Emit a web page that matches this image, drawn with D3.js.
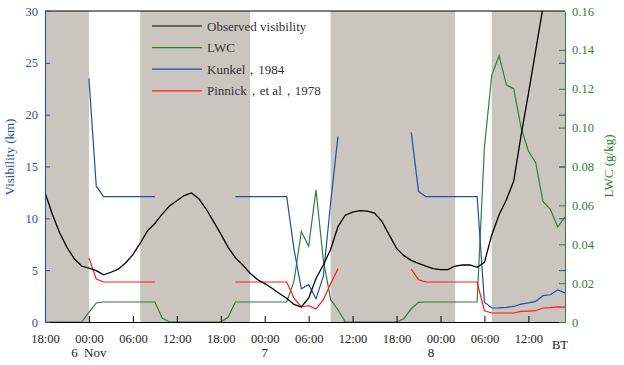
<!DOCTYPE html>

<head>
  <meta charset="utf-8">
  <title>Visibility and LWC</title>
  <style>
    body {
      margin: 0;
      background: #fff;
    }

    text {
      font-family: 'Liberation Serif', 'DejaVu Serif', serif;
    }
  </style>
</head>

<body>
  <div id="viz"></div>

  <script src="https://d3js.org/d3.v7.min.js"></script>

  <script>
    // hours since 18:00 on 5 Nov
    const hours = [0, 1, 2, 3, 4, 5, 6, 7, 8, 9, 10, 11, 12, 13, 14, 15, 16, 17, 18, 19,
      20, 21, 22, 23, 24, 25, 26, 27, 28, 29, 30, 31, 32, 33, 34, 35, 36, 37, 38, 39,
      40, 41, 42, 43, 44, 45, 46, 47, 48, 49, 50, 51, 52, 53, 54, 55, 56, 57, 58, 59,
      60, 61, 62, 63, 64, 65, 66, 67, 68, 69, 70, 71];

    const observed = [12.5, 10.4, 8.6, 7.2, 6.1, 5.4, 5.2, 4.95, 4.55, 4.8,
      5.1, 5.7, 6.5, 7.6, 8.8, 9.5, 10.4, 11.2, 11.7, 12.2,
      12.45, 11.9, 10.9, 9.7, 8.5, 7.2, 6.2, 5.5, 4.7, 4.1,
      3.7, 3.25, 2.75, 2.3, 1.7, 1.45, 2.3, 4.2, 5.5, 7.0,
      9.2, 10.3, 10.6, 10.75, 10.7, 10.5, 9.7, 8.4, 7.1, 6.4,
      5.95, 5.65, 5.4, 5.15, 5.05, 5.05, 5.4, 5.5, 5.5, 5.27,
      5.75, 8.4, 10.35, 11.8, 13.6, 18.0, 22.0, 26.2, 30.4, null, null, null];

    const lwc = [0, 0, 0, 0, 0, 0, 0.005, 0.0098, 0.0103, 0.0103,
      0.0103, 0.0103, 0.0103, 0.0103, 0.0103, 0.0103, 0.002, 0, 0, 0,
      0, 0, 0, 0, 0, 0.0024, 0.0103, 0.0103, 0.0103, 0.0103,
      0.0103, 0.0103, 0.0103, 0.0103, 0.021, 0.0466, 0.039, 0.068, 0.032, 0.0115,
      0.0063, 0, 0, 0, 0, 0, 0, 0, 0, 0.0017,
      0.0068, 0.0101, 0.0103, 0.0103, 0.0103, 0.0103, 0.0103, 0.0103, 0.0103, 0.0103,
      0.09, 0.127, 0.137, 0.122, 0.12, 0.1, 0.088, 0.082, 0.062, 0.058,
      0.049, 0.054];

    const kunkel = [null, null, null, null, null, null, 23.5, 13.1, 12.1, 12.1,
      12.1, 12.1, 12.1, 12.1, 12.1, 12.1, null, null, null, null,
      null, null, null, null, null, null, 12.1, 12.1, 12.1, 12.1,
      12.1, 12.1, 12.1, 12.1, 7.0, 3.2, 3.6, 2.25, 4.4, 11.5,
      17.9, null, null, null, null, null, null, null, null, null,
      18.3, 12.6, 12.1, 12.1, 12.1, 12.1, 12.1, 12.1, 12.1, 12.1,
      1.9, 1.35, 1.37, 1.42, 1.5, 1.73, 1.85, 1.99, 2.54, 2.63,
      3.1, 2.8];

    const pinnick = [null, null, null, null, null, null, 6.17, 4.15, 3.86, 3.86,
      3.86, 3.86, 3.86, 3.86, 3.86, 3.86, null, null, null, null,
      null, null, null, null, null, null, 3.86, 3.86, 3.86, 3.86,
      3.86, 3.86, 3.86, 3.86, 2.3, 1.45, 1.57, 1.25, 2.15, 3.7,
      5.14, null, null, null, null, null, null, null, null, null,
      5.1, 4.08, 3.86, 3.86, 3.86, 3.86, 3.86, 3.86, 3.86, 3.86,
      1.09, 0.87, 0.87, 0.87, 0.87, 1.02, 1.05, 1.09, 1.35, 1.38,
      1.45, 1.44];

    // shaded (night) periods, in hours
    const nightBands = [[0, 6], [13, 28], [39, 56], [61, 71]];

    const timeTicks = [0, 6, 12, 18, 24, 30, 36, 42, 48, 54, 60, 66];
    const timeTickLabels = ['18:00', '00:00', '06:00', '12:00', '18:00', '00:00',
      '06:00', '12:00', '18:00', '00:00', '06:00', '12:00'];
    const dayLabels = ['6 Nov', '7', '8'];
    const dayLabelHours = [6, 30, 52.7];

    const visTicks = [0, 5, 10, 15, 20, 25, 30];
    const lwcTicks = [0, 0.02, 0.04, 0.06, 0.08, 0.1, 0.12, 0.14, 0.16];

    const legendNames = ['Observed  visibility', 'LWC', 'Kunkel，1984', 'Pinnick，et  al，1978'];

    const colors = {
      obs: '#000000',
      lwc: '#2f7f3a',
      kunkel: '#1f4fae',
      pinnick: '#ff1a1a',
      shade: '#cac6bf'
    };

    let margin = { top: 11, right: 59, bottom: 43, left: 45 },
      width = 624 - margin.left - margin.right,
      height = 365 - margin.top - margin.bottom;

    let svg = d3.select('#viz')
      .append('svg')
      .attr('width', 624)
      .attr('height', 365)
      .append('g')
      .attr('transform', `translate(${margin.left}, ${margin.top})`);

    let x = d3.scaleLinear().domain([0, 71]).range([0, width]);
    let yVis = d3.scaleLinear().domain([0, 30]).range([height, 0]);
    let yLwc = d3.scaleLinear().domain([0, 0.16]).range([height, 0]);

    svg.append('clipPath')
      .attr('id', 'plot-clip')
      .append('rect')
      .attr('width', width)
      .attr('height', height);

    //night shading
    svg.selectAll('.band')
      .data(nightBands)
      .join('rect')
      .attr('class', 'band')
      .attr('x', d => x(d[0]))
      .attr('y', 0)
      .attr('width', d => x(d[1]) - x(d[0]))
      .attr('height', height)
      .style('fill', colors.shade);

    let visLine = d3.line()
      .defined(d => d[1] !== null)
      .x(d => x(d[0]))
      .y(d => yVis(d[1]));

    let lwcLine = d3.line()
      .defined(d => d[1] !== null)
      .x(d => x(d[0]))
      .y(d => yLwc(d[1]));

    let lines = svg.append('g').attr('clip-path', 'url(#plot-clip)');

    lines.append('path')
      .datum(hours.map((h, i) => [h, lwc[i]]))
      .attr('d', lwcLine)
      .style('fill', 'none')
      .style('stroke', colors.lwc)
      .style('stroke-width', 1.2);

    lines.append('path')
      .datum(hours.map((h, i) => [h, kunkel[i]]))
      .attr('d', visLine)
      .style('fill', 'none')
      .style('stroke', colors.kunkel)
      .style('stroke-width', 1.2);

    lines.append('path')
      .datum(hours.map((h, i) => [h, pinnick[i]]))
      .attr('d', visLine)
      .style('fill', 'none')
      .style('stroke', colors.pinnick)
      .style('stroke-width', 1.2);

    lines.append('path')
      .datum(hours.map((h, i) => [h, observed[i]]))
      .attr('d', visLine)
      .style('fill', 'none')
      .style('stroke', colors.obs)
      .style('stroke-width', 1.3);

    //legend
    let legendColors = [colors.obs, colors.lwc, colors.kunkel, colors.pinnick];
    let legend = svg.selectAll('.legend')
      .data(legendNames)
      .join('g')
      .attr('class', 'legend')
      .attr('transform', (d, i) => `translate(107, ${15 + i * 21.6})`);

    legend.append('line')
      .attr('x1', 0)
      .attr('x2', 50)
      .style('stroke', (d, i) => legendColors[i])
      .style('stroke-width', 1.2);

    legend.append('text')
      .attr('x', 55)
      .attr('dy', '0.35em')
      .text(d => d)
      .style('font-size', '13px')
      .style('fill', '#333');

    //bottom axis
    let xAxis = svg.append('g')
      .attr('transform', `translate(0, ${height})`)
      .call(d3.axisBottom(x)
        .tickValues(timeTicks)
        .tickFormat((d, i) => timeTickLabels[i])
        .tickSizeInner(-6)
        .tickSizeOuter(0)
        .tickPadding(12));
    xAxis.selectAll('text').style('font-size', '12.5px').style('fill', '#222');
    xAxis.select('.domain').style('stroke', '#000');

    xAxis.append('text')
      .attr('x', x(71) + 3)
      .attr('y', 18)
      .attr('dy', '0.71em')
      .attr('text-anchor', 'end')
      .text('BT')
      .style('font-size', '12.5px')
      .style('fill', '#222');

    svg.selectAll('.day')
      .data(dayLabels)
      .join('text')
      .attr('class', 'day')
      .attr('x', (d, i) => x(dayLabelHours[i]))
      .attr('y', height + 35)
      .attr('text-anchor', 'middle')
      .text(d => d)
      .style('font-size', '13px')
      .style('word-spacing', '3px')
      .style('fill', '#222');

    //top border
    svg.append('line')
      .attr('x1', 0)
      .attr('x2', width)
      .attr('y1', 0)
      .attr('y2', 0)
      .style('stroke', '#000');

    //left axis
    let yAxisLeft = svg.append('g')
      .call(d3.axisLeft(yVis)
        .tickValues(visTicks)
        .tickSizeInner(-5)
        .tickSizeOuter(0)
        .tickPadding(7));
    yAxisLeft.selectAll('line, .domain').style('stroke', colors.kunkel);
    yAxisLeft.selectAll('text').style('font-size', '12.5px').style('fill', colors.kunkel);

    //right axis, with visibility ticks echoed in blue
    let yAxisRightVis = svg.append('g')
      .attr('transform', `translate(${width}, 0)`)
      .call(d3.axisRight(yVis)
        .tickValues(visTicks)
        .tickSizeInner(-6)
        .tickSizeOuter(0)
        .tickFormat(''));
    yAxisRightVis.selectAll('line').style('stroke', colors.kunkel);
    yAxisRightVis.select('.domain').remove();

    let yAxisRight = svg.append('g')
      .attr('transform', `translate(${width}, 0)`)
      .call(d3.axisRight(yLwc)
        .tickValues(lwcTicks)
        .tickSizeInner(-6)
        .tickSizeOuter(0)
        .tickPadding(7)
        .tickFormat(d => d === 0 ? '0' : d3.format('.2f')(d)));
    yAxisRight.selectAll('line, .domain').style('stroke', colors.lwc);
    yAxisRight.selectAll('text').style('font-size', '12.5px').style('fill', colors.lwc);

    //axis titles
    svg.append('text')
      .attr('transform', `translate(${-31}, ${146}) rotate(-90)`)
      .attr('text-anchor', 'middle')
      .text('Visibility (km)')
      .style('font-size', '13px')
      .style('fill', colors.kunkel);

    svg.append('text')
      .attr('transform', `translate(${width + 48}, ${155}) rotate(-90)`)
      .attr('text-anchor', 'middle')
      .text('LWC (g/kg)')
      .style('font-size', '13px')
      .style('fill', colors.lwc);
  </script>
</body>

</html>
